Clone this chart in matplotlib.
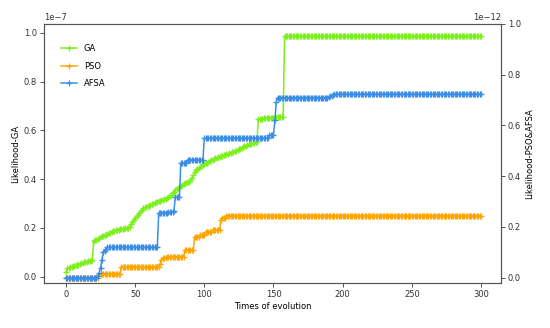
import numpy as np
import matplotlib
matplotlib.use("Agg")
import matplotlib.pyplot as plt

# Generations 0..300
generations = list(range(301))

# GA likelihood (units of 1e-7, left axis)
ga = ([0.02,
       0.035, 0.036, 0.038, 0.040, 0.042, 0.044, 0.046, 0.048, 0.050, 0.052,
       0.055, 0.057, 0.059, 0.060, 0.062, 0.063, 0.065, 0.066, 0.068,
       0.147, 0.150, 0.152, 0.155, 0.158, 0.162, 0.165, 0.168, 0.170, 0.172,
       0.175, 0.178, 0.180, 0.183, 0.186, 0.188, 0.190, 0.190, 0.192, 0.195,
       0.196, 0.196, 0.197, 0.198, 0.199, 0.200, 0.205, 0.215, 0.225, 0.232,
       0.240, 0.248, 0.255, 0.262, 0.268, 0.275, 0.280, 0.284, 0.286, 0.288,
       0.290, 0.293, 0.296, 0.299, 0.302, 0.305, 0.308, 0.310, 0.312, 0.314,
       0.316, 0.318, 0.320, 0.322, 0.325, 0.330, 0.336, 0.342, 0.348, 0.355,
       0.360, 0.365, 0.369, 0.372, 0.376, 0.380, 0.383, 0.385, 0.387, 0.389,
       0.395, 0.405, 0.418, 0.428, 0.437, 0.442, 0.446, 0.450, 0.455, 0.460,
       0.463, 0.465, 0.468, 0.471, 0.474, 0.477, 0.480, 0.483, 0.486, 0.488,
       0.490, 0.492, 0.494, 0.496, 0.498, 0.500, 0.502, 0.504, 0.506, 0.508,
       0.510, 0.512, 0.514, 0.516, 0.519, 0.522, 0.525, 0.528, 0.531, 0.534,
       0.537, 0.540, 0.542, 0.544, 0.546, 0.547, 0.549, 0.551, 0.553,
       0.646, 0.647, 0.648, 0.648, 0.649, 0.649, 0.650, 0.650, 0.651, 0.651,
       0.652, 0.652, 0.653, 0.653, 0.654, 0.655, 0.655, 0.656, 0.656]
      + [0.985] * 143)

# PSO likelihood (units of 1e-12, right axis)
pso = ([0.0] * 24 + [0.015] * 16 + [0.043] * 28
       + [0.055, 0.070, 0.078, 0.078, 0.078] + [0.083] * 13
       + [0.109] * 7 + [0.162] * 4 + [0.168] * 4 + [0.181] * 5 + [0.188] * 6
       + [0.227, 0.237, 0.237, 0.237] + [0.245] * 185)

# AFSA likelihood (units of 1e-12, right axis)
afsa = ([0.0] * 23 + [0.005, 0.020, 0.040, 0.070, 0.100, 0.105, 0.115]
        + [0.120] * 37
        + [0.254, 0.255, 0.255, 0.256, 0.256, 0.257, 0.257, 0.258, 0.258, 0.259, 0.260, 0.262]
        + [0.317] * 4 + [0.452] * 5 + [0.465] * 12 + [0.550] * 47
        + [0.563] * 4 + [0.620, 0.694] + [0.710] * 37
        + [0.712, 0.715, 0.718, 0.720, 0.722, 0.723] + [0.723] * 105)

ga_scale = 1e-7
pa_scale = 1e-12

plt.rcParams['font.family'] = ['DejaVu Sans']
plt.rcParams['font.size'] = 6

fig = plt.figure(figsize=(5.5, 3.28), dpi=100)
ax = fig.add_axes([0.08, 0.137, 0.831, 0.79])
ax2 = ax.twinx()

c_ga = '#7CF01A'
c_pso = '#FFA500'
c_afsa = '#3A8EE6'

x = np.array(generations)
style = dict(marker='+', markersize=4, markeredgewidth=0.9, linewidth=1.1)
l1, = ax.plot(x, np.array(ga) * ga_scale, color=c_ga, label='GA', **style)
l2, = ax2.plot(x, np.array(pso) * pa_scale, color=c_pso, label='PSO', **style)
l3, = ax2.plot(x, np.array(afsa) * pa_scale, color=c_afsa, label='AFSA', **style)

ax.set_xlim(-15.9, 314.5)
ax.set_ylim(-0.026e-7, 1.036e-7)
ax2.set_ylim(-0.021e-12, 1.0e-12)
ax.set_xticks([0, 50, 100, 150, 200, 250, 300])
ax.set_yticks(np.array([0.0, 0.2, 0.4, 0.6, 0.8, 1.0]) * 1e-7)
ax2.set_yticks(np.array([0.0, 0.2, 0.4, 0.6, 0.8, 1.0]) * 1e-12)

ax.set_xlabel('Times of evolution', labelpad=2)
ax.set_ylabel('Likelihood-GA', labelpad=3)
ax2.set_ylabel('Likelihood-PSO&AFSA', labelpad=3)

for a in (ax, ax2):
    a.tick_params(length=3, width=0.6, pad=2, colors='#333333')
    for s in a.spines.values():
        s.set_color('#555555')
        s.set_linewidth(0.8)

ax.legend(handles=[l1, l2, l3], loc='upper left', frameon=False,
          bbox_to_anchor=(0.02, 0.95), handlelength=2.0, labelspacing=1.0)

fig.savefig('out.png', dpi=100)
